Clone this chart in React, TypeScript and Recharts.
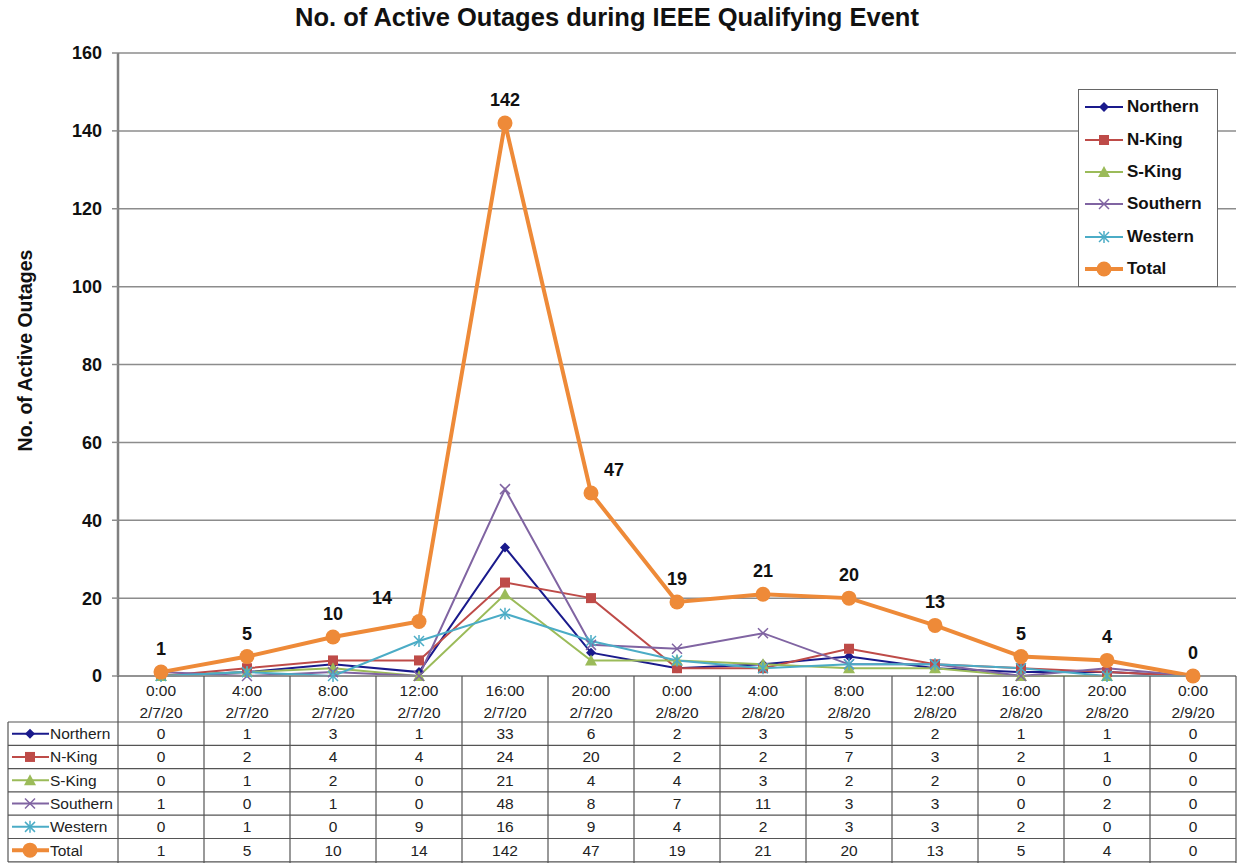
import React from 'react';
import { LineChart, Line, XAxis, YAxis, CartesianGrid, LabelList } from 'recharts';

// Time slots along the x axis (two-line header in the data table)
const times = ['0:00', '4:00', '8:00', '12:00', '16:00', '20:00', '0:00', '4:00', '8:00', '12:00', '16:00', '20:00', '0:00'];
const dates = ['2/7/20', '2/7/20', '2/7/20', '2/7/20', '2/7/20', '2/7/20', '2/8/20', '2/8/20', '2/8/20', '2/8/20', '2/8/20', '2/8/20', '2/9/20'];

const northern = [0, 1, 3, 1, 33, 6, 2, 3, 5, 2, 1, 1, 0];
const nKing = [0, 2, 4, 4, 24, 20, 2, 2, 7, 3, 2, 1, 0];
const sKing = [0, 1, 2, 0, 21, 4, 4, 3, 2, 2, 0, 0, 0];
const southern = [1, 0, 1, 0, 48, 8, 7, 11, 3, 3, 0, 2, 0];
const western = [0, 1, 0, 9, 16, 9, 4, 2, 3, 3, 2, 0, 0];
const total = [1, 5, 10, 14, 142, 47, 19, 21, 20, 13, 5, 4, 0];

const yTicks = [0, 20, 40, 60, 80, 100, 120, 140, 160];

type Shape = 'diamond' | 'square' | 'triangle' | 'cross' | 'star' | 'circle';

const seriesList: { name: string; values: number[]; color: string; shape: Shape; width: number }[] = [
  { name: 'Northern', values: northern, color: '#1a1a8c', shape: 'diamond', width: 2 },
  { name: 'N-King', values: nKing, color: '#be4b48', shape: 'square', width: 2 },
  { name: 'S-King', values: sKing, color: '#9bbb59', shape: 'triangle', width: 2 },
  { name: 'Southern', values: southern, color: '#8064a2', shape: 'cross', width: 2 },
  { name: 'Western', values: western, color: '#4bacc6', shape: 'star', width: 2 },
  { name: 'Total', values: total, color: '#ee8a38', shape: 'circle', width: 4 },
];

const data = times.map((t, i) => {
  const row: Record<string, string | number> = { slot: `${t} ${dates[i]}` };
  seriesList.forEach(s => { row[s.name] = s.values[i]; });
  return row;
});

const FONT = '"Liberation Sans", Arial, sans-serif';
const GRID = '#8c8c8c';
const TABLE_LINE = '#555';

// layout of the data table under the plot
const PLOT_BOTTOM = 676;
const TABLE_LEFT = 8;
const TABLE_RIGHT = 1236;
const HEADER_BOTTOM = 722;
const ROW_H = 23.3;

function marker(shape: Shape, cx: number, cy: number, color: string, key?: string | number) {
  switch (shape) {
    case 'diamond':
      return <path key={key} d={`M${cx},${cy - 5}L${cx + 5},${cy}L${cx},${cy + 5}L${cx - 5},${cy}Z`} fill={color} />;
    case 'square':
      return <rect key={key} x={cx - 5} y={cy - 5} width={10} height={10} fill={color} />;
    case 'triangle':
      return <path key={key} d={`M${cx},${cy - 6}L${cx + 6},${cy + 5}L${cx - 6},${cy + 5}Z`} fill={color} />;
    case 'cross':
      return (
        <g key={key} stroke={color} strokeWidth={1.5}>
          <line x1={cx - 5} y1={cy - 5} x2={cx + 5} y2={cy + 5} />
          <line x1={cx - 5} y1={cy + 5} x2={cx + 5} y2={cy - 5} />
        </g>
      );
    case 'star':
      return (
        <g key={key} stroke={color} strokeWidth={1.5}>
          <line x1={cx - 5} y1={cy - 5} x2={cx + 5} y2={cy + 5} />
          <line x1={cx - 5} y1={cy + 5} x2={cx + 5} y2={cy - 5} />
          <line x1={cx} y1={cy - 6} x2={cx} y2={cy + 6} />
        </g>
      );
    default:
      return <circle key={key} cx={cx} cy={cy} r={7.5} fill={color} />;
  }
}

const makeDot = (shape: Shape, color: string) => (props: any) => {
  const { cx, cy, index } = props;
  if (cx == null || cy == null) return <g key={`d${index}`} />;
  return marker(shape, cx, cy, color, `d${index}`);
};

// each x tick draws its own column of the data table
function TableTick(props: any) {
  const { x, payload } = props;
  const i = payload.index as number;
  const half = 43;
  const textStyle = { fontFamily: FONT, fontSize: 15.5, fill: '#222' };
  return (
    <g>
      {i === 0 && (
        <g>
          <line x1={x - half} y1={PLOT_BOTTOM} x2={x - half} y2={863} stroke={TABLE_LINE} strokeWidth={1.2} />
          <line x1={TABLE_LEFT} y1={HEADER_BOTTOM} x2={TABLE_LEFT} y2={862} stroke={TABLE_LINE} strokeWidth={1.2} />
          {[0, 1, 2, 3, 4, 5, 6].map(r => (
            <line
              key={`h${r}`}
              x1={TABLE_LEFT}
              y1={HEADER_BOTTOM + r * ROW_H}
              x2={TABLE_RIGHT}
              y2={HEADER_BOTTOM + r * ROW_H}
              stroke={TABLE_LINE}
              strokeWidth={1.2}
            />
          ))}
          {seriesList.map((s, r) => {
            const cy = HEADER_BOTTOM + r * ROW_H + ROW_H / 2;
            return (
              <g key={`lab${s.name}`}>
                <line x1={12} y1={cy} x2={49} y2={cy} stroke={s.color} strokeWidth={s.width === 4 ? 4 : 2} />
                {marker(s.shape, 30, cy, s.color)}
                <text x={50} y={cy + 5.5} {...textStyle}>{s.name}</text>
              </g>
            );
          })}
        </g>
      )}
      <line x1={x + half} y1={PLOT_BOTTOM} x2={x + half} y2={863} stroke={TABLE_LINE} strokeWidth={1.2} />
      <text x={x} y={PLOT_BOTTOM + 20} textAnchor="middle" {...textStyle}>{times[i]}</text>
      <text x={x} y={PLOT_BOTTOM + 42} textAnchor="middle" {...textStyle}>{dates[i]}</text>
      {seriesList.map((s, r) => (
        <text
          key={`v${s.name}`}
          x={x}
          y={HEADER_BOTTOM + r * ROW_H + ROW_H / 2 + 5.5}
          textAnchor="middle"
          {...textStyle}
        >
          {s.values[i]}
        </text>
      ))}
    </g>
  );
}

// Excel nudged a couple of the total labels sideways
const labelShift: Record<number, number> = { 3: -37, 5: 23 };

function TotalLabel(props: any) {
  const { x, y, value, index } = props;
  const dx = labelShift[index] ?? 0;
  return (
    <text
      x={x + dx}
      y={y - 17}
      textAnchor="middle"
      style={{ fontFamily: FONT, fontSize: 18, fontWeight: 700, fill: '#111' }}
    >
      {value}
    </text>
  );
}

function LegendBox() {
  return (
    <div
      style={{
        position: 'absolute',
        left: 1078,
        top: 89,
        border: '1.5px solid #666',
        background: '#fff',
        width: 138,
        padding: '1px 0',
        fontFamily: FONT,
        fontWeight: 700,
        fontSize: 17,
        color: '#111',
      }}
    >
      {seriesList.map(s => (
        <div key={s.name} style={{ display: 'flex', alignItems: 'center', height: 32.4 }}>
          <svg width={44} height={20} style={{ marginLeft: 2 }}>
            <line x1={4} y1={10} x2={42} y2={10} stroke={s.color} strokeWidth={s.width === 4 ? 4 : 2} />
            {marker(s.shape, 23, 10, s.color)}
          </svg>
          <span style={{ marginLeft: 2 }}>{s.name}</span>
        </div>
      ))}
    </div>
  );
}

export default function App() {
  return (
    <div style={{ position: 'absolute', left: 0, top: 0, width: 1237, height: 863, background: '#fff' }}>
      <div
        style={{
          position: 'absolute',
          left: 0,
          width: 1214,
          top: 3,
          textAlign: 'center',
          fontFamily: FONT,
          fontWeight: 700,
          fontSize: 25.5,
          color: '#111',
        }}
      >
        No. of Active Outages during IEEE Qualifying Event
      </div>
      <LineChart width={1237} height={863} data={data} margin={{ top: 53, right: 1, left: 0, bottom: 1 }}>
        <CartesianGrid vertical={false} stroke={GRID} strokeWidth={1.5} />
        <XAxis
          dataKey="slot"
          interval={0}
          height={186}
          padding={{ left: 43, right: 43 }}
          tickLine={false}
          tickSize={0}
          tickMargin={0}
          axisLine={{ stroke: GRID, strokeWidth: 1.5 }}
          tick={<TableTick />}
        />
        <YAxis
          width={118}
          domain={[0, 160]}
          ticks={yTicks}
          interval={0}
          tickSize={6}
          tickMargin={10}
          tickLine={{ stroke: GRID, strokeWidth: 1.5 }}
          axisLine={{ stroke: '#808080', strokeWidth: 2.5 }}
          tick={{ fontFamily: FONT, fontSize: 18, fontWeight: 700, fill: '#111' }}
          label={{
            value: 'No. of Active Outages',
            angle: -90,
            position: 'insideLeft',
            dx: 20,
            dy: -14,
            style: { fontFamily: FONT, fontSize: 19.5, fontWeight: 700, fill: '#111', textAnchor: 'middle' },
          }}
        />
        {seriesList.map(s => (
          <Line
            key={s.name}
            type="linear"
            dataKey={s.name}
            stroke={s.color}
            strokeWidth={s.width}
            dot={makeDot(s.shape, s.color)}
            activeDot={false}
            isAnimationActive={false}
          >
            {s.name === 'Total' && <LabelList dataKey="Total" content={<TotalLabel />} />}
          </Line>
        ))}
      </LineChart>
      <LegendBox />
    </div>
  );
}
